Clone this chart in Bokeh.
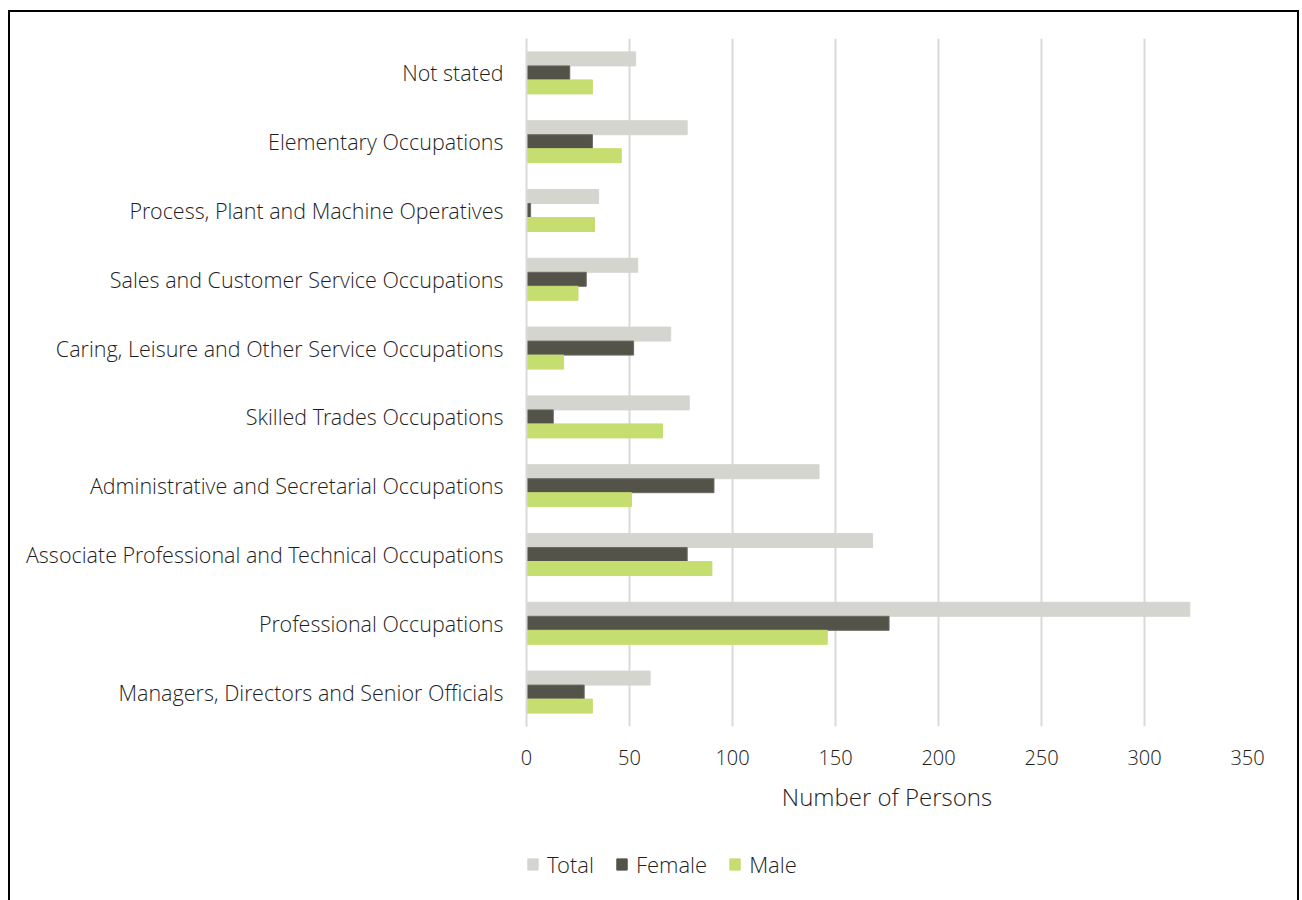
from bokeh.plotting import figure
from bokeh.models import ColumnDataSource, FactorRange, Legend, LegendItem
from bokeh.layouts import column
from bokeh.transform import dodge
from bokeh.embed import file_html
from bokeh.resources import INLINE

categories = [
    "Managers, Directors and Senior Officials",
    "Professional Occupations",
    "Associate Professional and Technical Occupations",
    "Administrative and Secretarial Occupations",
    "Skilled Trades Occupations",
    "Caring, Leisure and Other Service Occupations",
    "Sales and Customer Service Occupations",
    "Process, Plant and Machine Operatives",
    "Elementary Occupations",
    "Not stated",
]
total = [60, 322, 168, 142, 79, 70, 54, 35, 78, 53]
female = [28, 176, 78, 91, 13, 52, 29, 2, 32, 21]
male = [32, 146, 90, 51, 66, 18, 25, 33, 46, 32]
x_ticks = [0, 50, 100, 150, 200, 250, 300, 350]
series_names = ["Total", "Female", "Male"]

src = ColumnDataSource(dict(cat=categories, total=total, female=female, male=male))

FONT = "Open Sans Light, Open Sans"
TXT = "#1e1e1e"
colors = ["#D5D5D0", "#53534A", "#C6DD6F"]

p = figure(
    width=1287, height=814,
    y_range=FactorRange(factors=categories),
    x_range=(0, 350),
    output_backend="svg", toolbar_location=None,
    min_border_left=516, min_border_right=50,
    min_border_top=26, min_border_bottom=100,
)

bh = 0.2035
p.hbar(y=dodge("cat", bh, range=p.y_range), right="total", height=bh, source=src,
       fill_color=colors[0], line_color=colors[0])
p.hbar(y=dodge("cat", 0, range=p.y_range), right="female", height=bh, source=src,
       fill_color=colors[1], line_color="#6a6a62", line_width=1)
p.hbar(y=dodge("cat", -bh, range=p.y_range), right="male", height=bh, source=src,
       fill_color=colors[2], line_color=colors[2])

p.outline_line_color = None
p.ygrid.grid_line_color = None
p.xgrid.grid_line_color = "#D9D9D9"
p.xgrid.grid_line_width = 2
p.xaxis.ticker = x_ticks
p.xaxis.axis_line_color = None
p.xaxis.major_tick_line_color = None
p.xaxis.minor_tick_line_color = None
p.xaxis.major_label_text_font = FONT
p.xaxis.major_label_text_font_size = "20px"
p.xaxis.major_label_text_color = TXT
p.xaxis.major_label_standoff = 17
p.xaxis.axis_label = "Number of Persons"
p.xaxis.axis_label_text_font = FONT
p.xaxis.axis_label_text_font_size = "24px"
p.xaxis.axis_label_text_font_style = "normal"
p.xaxis.axis_label_text_color = TXT
p.xaxis.axis_label_standoff = 12

p.yaxis.axis_line_color = "#D9D9D9"
p.yaxis.axis_line_width = 2
p.yaxis.major_tick_line_color = None
p.yaxis.minor_tick_line_color = None
p.yaxis.major_label_text_font = FONT
p.yaxis.major_label_text_font_size = "21.5px"
p.yaxis.major_label_text_color = TXT
p.yaxis.major_label_standoff = 17

# legend strip below the chart
pl = figure(width=1287, height=80, x_range=(0, 1), y_range=(0, 1),
            output_backend="svg", toolbar_location=None,
            min_border=0, min_border_left=0, min_border_right=0,
            min_border_top=0, min_border_bottom=0)
pl.axis.visible = False
pl.grid.visible = False
pl.outline_line_color = None
lr = [pl.hbar(y="y", right="right", height=0.1,
              source=ColumnDataSource(dict(y=[-5], right=[0])),
              fill_color=c, line_color=c) for c in colors]
legend = Legend(items=[LegendItem(label=n, renderers=[r]) for n, r in zip(series_names, lr)],
                orientation="horizontal", location=(0, 27),
                label_text_font=FONT, label_text_font_size="22px", label_text_color=TXT,
                glyph_width=13, glyph_height=14, spacing=21, label_standoff=8,
                border_line_color=None, background_fill_alpha=0, margin=0, padding=0)
pl.add_layout(legend, "center")

lay = column(p, pl, spacing=0)
lay.styles = {"border-left": "2px solid #000", "border-top": "2px solid #000",
              "border-right": "2px solid #000", "margin-left": "8px", "margin-top": "10px"}

open("out.html", "w").write(file_html(lay, INLINE))
